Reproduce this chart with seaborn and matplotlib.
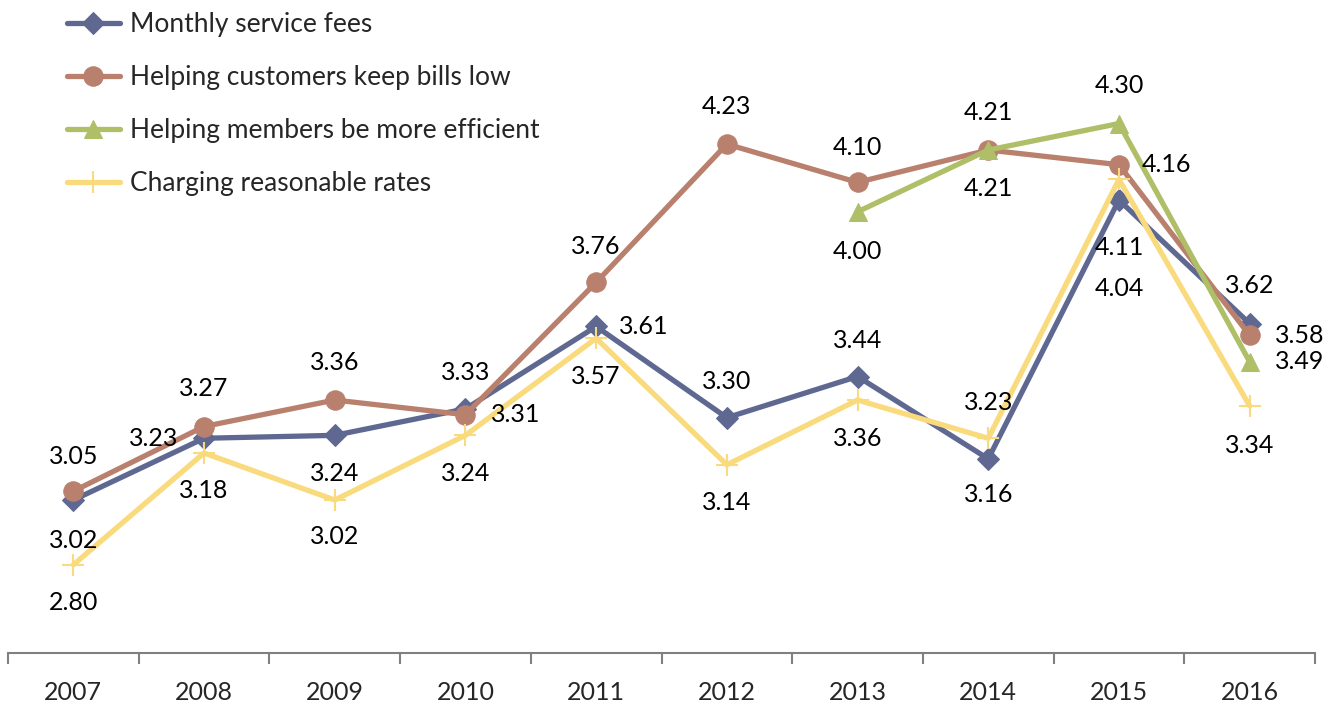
import matplotlib
matplotlib.use("Agg")
import matplotlib.pyplot as plt
import seaborn as sns
import numpy as np
import pandas as pd

years = ["2007", "2008", "2009", "2010", "2011", "2012", "2013", "2014", "2015", "2016"]
monthly_fees = [3.02, 3.23, 3.24, 3.33, 3.61, 3.30, 3.44, 3.16, 4.04, 3.62]
bills_low = [3.05, 3.27, 3.36, 3.31, 3.76, 4.23, 4.10, 4.21, 4.16, 3.58]
efficient = [None, None, None, None, None, None, 4.00, 4.21, 4.30, 3.49]
reasonable_rates = [2.80, 3.18, 3.02, 3.24, 3.57, 3.14, 3.36, 3.23, 4.11, 3.34]

series_names = ["Monthly service fees", "Helping customers keep bills low",
                "Helping members be more efficient", "Charging reasonable rates"]

# styling
colors = ["#5E6891", "#B9806E", "#AEBF67", "#F9DA7C"]
markers = ["D", "o", "^", "+"]
msizes = [11, 14, 13, 16]
FS = 18

# label offsets in pixels (dx, dy) per series per year
offsets = [
    [(0, -40), (-50, 0), (0, -38), (0, 36), (48, 0), (0, 36), (0, 36), (0, -36), (0, -88), (0, 38)],
    [(0, 35), (0, 38), (0, 38), (50, 0), (0, 36), (0, 38), (0, 35), (0, 38), (48, 0), (50, 0)],
    [None] * 6 + [(0, -40), (0, -38), (0, 38), (50, 0)],
    [(0, -38), (0, -38), (0, -36), (0, -38), (0, -38), (0, -38), (0, -38), (0, 36), (0, -68), (0, -40)],
]

sns.set_style("white")
plt.rcParams["font.family"] = ["Lato", "DejaVu Sans"]

fig = plt.figure(figsize=(13.35, 7.02), dpi=100)
ax = fig.add_axes([8 / 1335, 49 / 702, 1307 / 1335, 653 / 702])

all_series = [monthly_fees, bills_low, efficient, reasonable_rates]
x = np.arange(len(years))
for i, (name, vals) in enumerate(zip(series_names, all_series)):
    df = pd.DataFrame({"x": x, "y": pd.to_numeric(pd.Series(vals), errors="coerce")}).dropna()
    kw = dict(markeredgecolor=colors[i])
    if markers[i] == "+":
        kw["markeredgewidth"] = 1.5
    sns.lineplot(data=df, x="x", y="y", ax=ax, color=colors[i], marker=markers[i],
                 markersize=msizes[i], linewidth=3.8, label=name, zorder=3 + i, **kw)
    for j, v in enumerate(vals):
        if v is None:
            continue
        dx, dy = offsets[i][j]
        ax.annotate(f"{v:.2f}", (j, v), xytext=(dx, dy), textcoords="offset pixels",
                    ha="center", va="center", fontsize=FS, color="black", zorder=10)

ax.set_xlim(-0.5, 9.5)
ax.set_ylim(2.5, 4.72)
ax.set_xlabel("")
ax.set_ylabel("")
ax.set_yticks([])
ax.set_xticks(x)
ax.set_xticklabels(years, fontsize=FS)
ax.set_xticks(np.arange(-0.5, 10, 1.0), minor=True)
ax.tick_params(axis="x", which="major", bottom=False, length=0, pad=20)
ax.tick_params(axis="x", which="minor", bottom=True, length=8, width=1.5, color="#808080", direction="out")
for s in ["top", "left", "right"]:
    ax.spines[s].set_visible(False)
ax.spines["bottom"].set_color("#808080")
ax.spines["bottom"].set_linewidth(1.5)

leg = ax.legend(loc="upper left", bbox_to_anchor=(0.037, 0.998), frameon=False, fontsize=19,
                handlelength=2.0, handletextpad=0.38, labelspacing=1.06, borderaxespad=0)

fig.savefig("out.png", dpi=100)
